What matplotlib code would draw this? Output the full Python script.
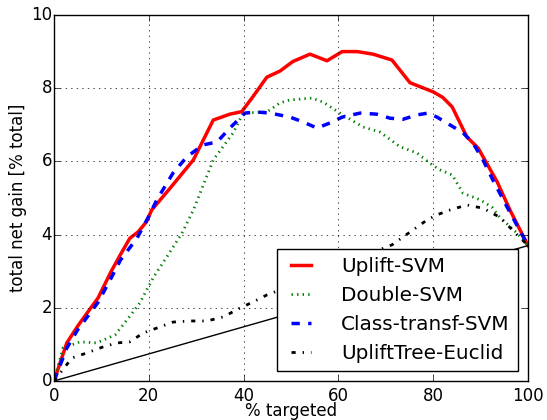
import matplotlib
matplotlib.use("Agg")
import matplotlib.pyplot as plt

plt.style.use("classic")

uplift_x = [0, 2.7, 5, 7.5, 9.3, 12, 14, 16, 17.8, 19.5, 20.6, 24.5, 29.4, 33.6, 37.1, 39.6, 41.7, 44.9, 47.7, 50.4,
            54, 57.6, 60.8, 64, 67.3, 71.3, 75.1, 80, 82, 84, 87.1, 89.5, 93.5, 96.2, 100]
uplift_y = [0, 1.04, 1.5, 1.95, 2.27, 2.98, 3.45, 3.9, 4.08, 4.35, 4.67, 5.27, 6.04, 7.13, 7.29, 7.36, 7.72, 8.3, 8.47, 8.73,
            8.93, 8.75, 9.0, 9.0, 8.93, 8.77, 8.15, 7.9, 7.75, 7.49, 6.67, 6.36, 5.44, 4.67, 3.7]

double_x = [0, 1.9, 5.5, 9, 12.9, 15.4, 18.1, 21, 23.8, 27, 29.4, 33.6, 37.8, 39.9, 44.9, 47.7, 49.8, 54.4, 56.8,
            60.3, 65.2, 68.8, 73, 76.6, 79.3, 81.4, 84, 86.3, 89.9, 92.4, 94, 97.7, 100]
double_y = [0, 0.9, 1.07, 1.04, 1.26, 1.67, 2.13, 2.84, 3.39, 4.04, 4.67, 6.04, 6.78, 7.32, 7.35, 7.6, 7.68, 7.73, 7.62,
            7.32, 6.94, 6.8, 6.4, 6.23, 5.95, 5.77, 5.63, 5.13, 4.95, 4.75, 4.48, 4.04, 3.7]

ctsvm_x = [0, 2.7, 5, 9.3, 12, 14, 17.5, 20, 21.7, 25.1, 28, 31.4, 34.4, 37.1, 40.3, 42.8, 45.6, 49.8, 52.5, 55.5,
           58.2, 60.8, 64.6, 68.1, 70.9, 73.6, 76.6, 78.9, 80.8, 83.5, 86.3, 88.4, 90.5, 92.6, 95.6, 100]
ctsvm_y = [0, 0.9, 1.4, 2.15, 2.8, 3.3, 3.9, 4.5, 4.95, 5.68, 6.12, 6.45, 6.53, 6.91, 7.32, 7.35, 7.32, 7.21, 7.08, 6.91,
           7.05, 7.21, 7.32, 7.29, 7.18, 7.15, 7.27, 7.32, 7.21, 7.0, 6.78, 6.5, 6.04, 5.49, 4.75, 3.7]

tree_x = [0, 3.8, 7, 10.3, 13.3, 16, 18.8, 22.4, 25.1, 28.7, 32.3, 35.7, 39.2, 42, 44.9, 50, 55, 60, 65,
          71.3, 73.6, 76.2, 78.7, 80.8, 83.5, 87.1, 90.5, 94, 100]
tree_y = [0, 0.63, 0.77, 0.93, 1.04, 1.07, 1.31, 1.48, 1.61, 1.64, 1.64, 1.75, 1.99, 2.16, 2.35, 2.6, 2.85, 3.1, 3.4,
          3.72, 3.93, 4.17, 4.4, 4.54, 4.67, 4.81, 4.72, 4.48, 3.7]

random_x = [0, 100]
random_y = [0, 3.7]

labels = ["Uplift-SVM", "Double-SVM", "Class-transf-SVM", "UpliftTree-Euclid"]
xticks = [0, 20, 40, 60, 80, 100]
yticks = [0, 2, 4, 6, 8, 10]

fig = plt.figure(figsize=(5.47, 4.2), dpi=100)
fig.patch.set_facecolor("white")
ax = fig.add_axes([54 / 547, 39 / 420, 474 / 547, 366 / 420])

ax.plot(uplift_x, uplift_y, color="red", linestyle="-", linewidth=2.5, label=labels[0])
ax.plot(double_x, double_y, color="green", linestyle=":", linewidth=2, label=labels[1])
ax.plot(ctsvm_x, ctsvm_y, color="blue", linestyle="--", linewidth=2.5, label=labels[2])
ax.plot(tree_x, tree_y, color="black", linestyle="-.", linewidth=2, label=labels[3])
ax.plot(random_x, random_y, color="black", linestyle="-", linewidth=1)

ax.set_xlim(0, 100)
ax.set_ylim(0, 10)
ax.set_xticks(xticks)
ax.set_yticks(yticks)
ax.grid(True, color="black", linestyle=":", linewidth=0.5)
ax.set_xlabel("% targeted", fontsize=12, labelpad=-1.5)
ax.set_ylabel("total net gain [% total]", fontsize=12, labelpad=2.5)
ax.tick_params(labelsize=12)
ax.tick_params(axis="y", pad=1.5)
ax.tick_params(axis="x", pad=4)

leg = ax.legend(loc="lower right", fontsize=14.4, fancybox=False, numpoints=2, borderaxespad=0.5,
                handlelength=1.6, handletextpad=1.2)
leg.get_frame().set_edgecolor("black")

fig.savefig("out.png", dpi=100, facecolor="white")
